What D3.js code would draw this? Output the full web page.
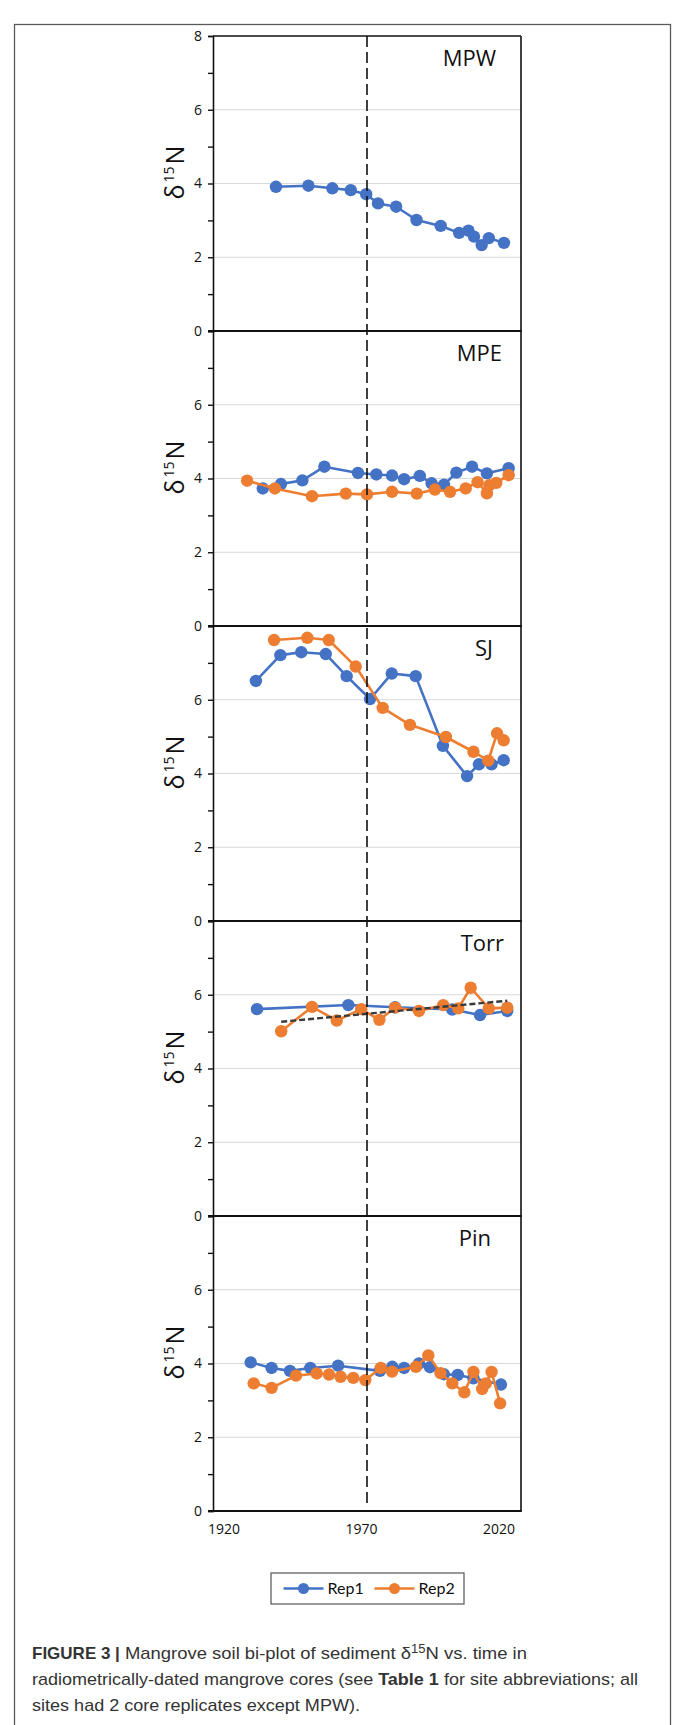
<!DOCTYPE html>
<html>
<head>
<meta charset="utf-8">
<script src="https://cdnjs.cloudflare.com/ajax/libs/d3/7.8.5/d3.min.js"></script>
<style>
  html, body { margin: 0; padding: 0; background: #fff; }
  svg { display: block; }
</style>
</head>
<body>
<svg id="fig" width="673" height="1725"></svg>
<script>
// ---- data: sediment d15N by core date, two core replicates per site ----
const sites = ["MPW", "MPE", "SJ", "Torr", "Pin"];
const seriesNames = ["Rep1", "Rep2"];
const yTickLabels = [0, 2, 4, 6, 8];
const xTickLabels = [1920, 1970, 2020];
const referenceYear = 1972;

const mpwRep1Years = [1938.9, 1950.7, 1959.4, 1966.1, 1971.7, 1976.0, 1982.6, 1990.0, 1998.8, 2005.5, 2008.9, 2010.9, 2013.7, 2016.3, 2021.8];
const mpwRep1Values = [3.91, 3.94, 3.87, 3.82, 3.71, 3.46, 3.37, 3.01, 2.85, 2.66, 2.72, 2.56, 2.33, 2.52, 2.39];

const mpeRep1Years = [1934.1, 1940.7, 1948.5, 1956.5, 1968.7, 1975.4, 1981.1, 1985.5, 1991.2, 1995.5, 2000.0, 2004.5, 2010.2, 2015.6, 2023.5];
const mpeRep1Values = [3.73, 3.85, 3.95, 4.32, 4.15, 4.11, 4.08, 3.98, 4.07, 3.87, 3.83, 4.16, 4.32, 4.14, 4.28];
const mpeRep2Years = [1928.4, 1938.5, 1952.0, 1964.3, 1972.0, 1981.1, 1990.1, 1996.7, 2002.2, 2007.9, 2012.2, 2015.6, 2016.5, 2019.0, 2023.5];
const mpeRep2Values = [3.94, 3.73, 3.52, 3.59, 3.57, 3.64, 3.59, 3.70, 3.64, 3.73, 3.90, 3.60, 3.82, 3.88, 4.09];

const sjRep1Years = [1931.6, 1940.5, 1948.1, 1957.0, 1964.6, 1973.1, 1981.0, 1989.7, 1999.6, 2008.4, 2012.7, 2017.3, 2021.7];
const sjRep1Values = [6.51, 7.21, 7.29, 7.24, 6.64, 6.02, 6.71, 6.64, 4.75, 3.93, 4.25, 4.25, 4.36];
const sjRep2Years = [1938.2, 1950.3, 1958.1, 1967.9, 1977.7, 1987.6, 2000.7, 2010.7, 2016.1, 2019.3, 2021.7];
const sjRep2Values = [7.62, 7.68, 7.62, 6.90, 5.78, 5.32, 4.99, 4.59, 4.35, 5.09, 4.90];

const torrRep1Years = [1932.0, 1965.2, 1982.2, 2003.0, 2013.1, 2023.0];
const torrRep1Values = [5.61, 5.72, 5.66, 5.60, 5.45, 5.56];
const torrRep2Years = [1940.8, 1952.0, 1961.0, 1969.9, 1976.5, 1982.2, 1990.9, 1999.7, 2005.2, 2009.7, 2016.3, 2023.0];
const torrRep2Values = [5.01, 5.67, 5.30, 5.61, 5.32, 5.65, 5.56, 5.72, 5.63, 6.19, 5.63, 5.65];

const pinRep1Years = [1929.7, 1937.3, 1944.0, 1951.4, 1961.5, 1976.7, 1981.2, 1985.5, 1990.9, 1994.9, 1999.9, 2005.0, 2010.7, 2020.7];
const pinRep1Values = [4.03, 3.88, 3.80, 3.88, 3.94, 3.80, 3.91, 3.88, 4.00, 3.90, 3.71, 3.69, 3.60, 3.43];
const pinRep2Years = [1930.8, 1937.3, 1946.2, 1953.7, 1958.2, 1962.4, 1967.0, 1971.4, 1977.0, 1981.1, 1989.8, 1994.3, 1998.7, 2003.0, 2007.4, 2010.7, 2013.9, 2015.2, 2017.3, 2020.4];
const pinRep2Values = [3.46, 3.34, 3.67, 3.73, 3.70, 3.64, 3.61, 3.55, 3.88, 3.78, 3.91, 4.22, 3.74, 3.46, 3.22, 3.77, 3.31, 3.46, 3.77, 2.92];

// site -> replicate series (null where a core was not taken)
const siteSeries = [
  [[mpwRep1Years, mpwRep1Values], null],
  [[mpeRep1Years, mpeRep1Values], [mpeRep2Years, mpeRep2Values]],
  [[sjRep1Years, sjRep1Values], [sjRep2Years, sjRep2Values]],
  [[torrRep1Years, torrRep1Values], [torrRep2Years, torrRep2Values]],
  [[pinRep1Years, pinRep1Values], [pinRep2Years, pinRep2Values]]
];
// linear trend is fitted to the Rep2 core at Torr
const trendSite = "Torr";

// ---- layout ----
const colors = ["#4472C4", "#ED7D31"];
const plotLeft = 213, plotRight = 521;
const panelTop = 36, panelH = 295;
const siteLabelRight = [496, 502, 493, 504, 491];
const tickFont = "'Open Sans', 'DejaVu Sans', sans-serif";

const svg = d3.select("#fig");

// outer figure frame
svg.append("rect")
  .attr("x", 14.5).attr("y", 24.5)
  .attr("width", 656).attr("height", 1740)
  .attr("fill", "none").attr("stroke", "#5a5a5a").attr("stroke-width", 1.3);

const x = d3.scaleLinear().domain([1916, 2028]).range([plotLeft, plotRight]);

const line = d3.line().x(d => x(d[0])).y(d => d.y);

sites.forEach((site, i) => {
  const top = panelTop + i * panelH;
  const bottom = top + panelH;
  const y = d3.scaleLinear().domain([0, 8]).range([bottom, top]);
  const g = svg.append("g").attr("class", "panel-" + site);

  // horizontal gridlines
  g.selectAll("line.grid").data([2, 4, 6]).join("line")
    .attr("class", "grid")
    .attr("x1", plotLeft).attr("x2", plotRight)
    .attr("y1", d => y(d)).attr("y2", d => y(d))
    .attr("stroke", "#d9d9d9").attr("stroke-width", 1.2);

  // y axis with major and minor ticks; the top label is shown only on the first panel
  const shown = d => yTickLabels.includes(d) && (d < 8 || i === 0);
  const yAxis = d3.axisLeft(y)
    .tickValues(d3.range(0, 9, 1))
    .tickSize(5)
    .tickFormat(d => shown(d) ? d : "");
  const ag = g.append("g").attr("transform", `translate(${plotLeft},0)`).call(yAxis);
  ag.select(".domain").attr("stroke", "#111").attr("stroke-width", 1.6);
  ag.selectAll(".tick line").attr("stroke", "#111").attr("stroke-width", 1.4);
  ag.selectAll(".tick").filter(d => !shown(d)).select("text").remove();
  ag.selectAll(".tick text")
    .attr("x", -11)
    .attr("font-family", tickFont).attr("font-size", 14).attr("fill", "#111");

  // plot frame: right edge, top (first panel), and bold baseline
  g.append("line").attr("x1", plotRight).attr("x2", plotRight).attr("y1", top).attr("y2", bottom)
    .attr("stroke", "#111").attr("stroke-width", 1.6);
  if (i === 0) {
    g.append("line").attr("x1", plotLeft).attr("x2", plotRight).attr("y1", top).attr("y2", top)
      .attr("stroke", "#111").attr("stroke-width", 1.6);
  }
  g.append("line").attr("x1", plotLeft - 5).attr("x2", plotRight + 0.8).attr("y1", bottom).attr("y2", bottom)
    .attr("stroke", "#111").attr("stroke-width", 2.2);

  // y axis title: delta 15 N
  const tcx = 184, tcy = top + panelH / 2 - 11;
  const title = g.append("text")
    .attr("transform", `translate(${tcx},${tcy}) rotate(-90)`)
    .attr("text-anchor", "middle")
    .attr("font-family", tickFont).attr("font-size", 25).attr("fill", "#111");
  title.append("tspan").text("δ");
  title.append("tspan").attr("font-size", 14).attr("dy", -10).attr("dx", 2).text("15");
  title.append("tspan").attr("dy", 10).attr("dx", 2).text("N");

  // site name
  g.append("text")
    .attr("x", siteLabelRight[i]).attr("y", top + 30)
    .attr("text-anchor", "end")
    .attr("font-family", tickFont).attr("font-size", 22).attr("fill", "#111")
    .text(site);

  // series
  siteSeries[i].forEach((s, k) => {
    if (!s) return;
    const pts = s[0].map((yr, j) => { const p = [yr, s[1][j]]; p.y = y(s[1][j]); return p; });
    g.append("path")
      .attr("d", line(pts))
      .attr("fill", "none").attr("stroke", colors[k]).attr("stroke-width", 2.6)
      .attr("stroke-linejoin", "round");
    g.selectAll("circle.s" + k).data(pts).join("circle")
      .attr("class", "s" + k)
      .attr("cx", d => x(d[0])).attr("cy", d => d.y).attr("r", 6.2)
      .attr("fill", colors[k]);
  });

  // least-squares trend line over Rep2
  if (site === trendSite) {
    const [xs, vs] = siteSeries[i][1];
    const mx = d3.mean(xs), my = d3.mean(vs);
    const slope = d3.sum(xs, (v, j) => (v - mx) * (vs[j] - my)) / d3.sum(xs, v => (v - mx) * (v - mx));
    const x0 = d3.min(xs), x1 = d3.max(xs);
    g.append("line")
      .attr("x1", x(x0)).attr("x2", x(x1))
      .attr("y1", y(my + slope * (x0 - mx))).attr("y2", y(my + slope * (x1 - mx)))
      .attr("stroke", "#3a3a3a").attr("stroke-width", 2.4).attr("stroke-dasharray", "6,3");
  }
});

// reference year, dashed across all panels
svg.append("line")
  .attr("x1", x(referenceYear)).attr("x2", x(referenceYear))
  .attr("y1", panelTop).attr("y2", panelTop + sites.length * panelH - 6)
  .attr("stroke", "#111").attr("stroke-width", 1.6).attr("stroke-dasharray", "11,5");

// x axis labels under the last panel
const xAxisY = panelTop + sites.length * panelH;
svg.append("g").selectAll("text").data(xTickLabels).join("text")
  .attr("x", d => x(d)).attr("y", xAxisY + 23)
  .attr("text-anchor", "middle")
  .attr("font-family", tickFont).attr("font-size", 14).attr("fill", "#111")
  .text(d => d);

// legend
const lg = svg.append("g");
lg.append("rect").attr("x", 271).attr("y", 1573).attr("width", 193).attr("height", 31)
  .attr("fill", "#fff").attr("stroke", "#555").attr("stroke-width", 1.2);
const legendX = [283.5, 374.5];
seriesNames.forEach((name, k) => {
  const lx = legendX[k], ly = 1588.5;
  lg.append("line").attr("x1", lx).attr("x2", lx + 40).attr("y1", ly).attr("y2", ly)
    .attr("stroke", colors[k]).attr("stroke-width", 2.6);
  lg.append("circle").attr("cx", lx + 20).attr("cy", ly).attr("r", 5.5).attr("fill", colors[k]);
  lg.append("text").attr("x", lx + 44).attr("y", ly + 5.5)
    .attr("font-family", "Lato, 'Open Sans', sans-serif").attr("font-size", 16).attr("fill", "#111")
    .text(name);
});

// caption; regular runs are fitted to their line widths
const capFont = "'Liberation Sans', Arial, sans-serif";
const cap = svg.append("g").attr("font-family", capFont).attr("font-size", 17).attr("fill", "#333");
const figLabel = cap.append("text").attr("x", 32).attr("y", 1659)
  .attr("font-weight", "bold")
  .text("FIGURE 3 |");
const runStart = 32 + figLabel.node().getComputedTextLength() + 5;
const l1 = cap.append("text").attr("x", runStart).attr("y", 1659)
  .attr("textLength", 527 - runStart).attr("lengthAdjust", "spacingAndGlyphs");
l1.append("tspan").text("Mangrove soil bi-plot of sediment δ");
l1.append("tspan").attr("font-size", 12).attr("dy", -6).text("15");
l1.append("tspan").attr("dy", 6).text("N vs. time in");
const l2 = cap.append("text").attr("x", 32).attr("y", 1685)
  .attr("textLength", 606).attr("lengthAdjust", "spacingAndGlyphs");
l2.append("tspan").text("radiometrically-dated mangrove cores (see ");
l2.append("tspan").attr("font-weight", "bold").text("Table 1");
l2.append("tspan").text(" for site abbreviations; all");
cap.append("text").attr("x", 32).attr("y", 1711)
  .attr("textLength", 328).attr("lengthAdjust", "spacingAndGlyphs")
  .text("sites had 2 core replicates except MPW).");
</script>
</body>
</html>
